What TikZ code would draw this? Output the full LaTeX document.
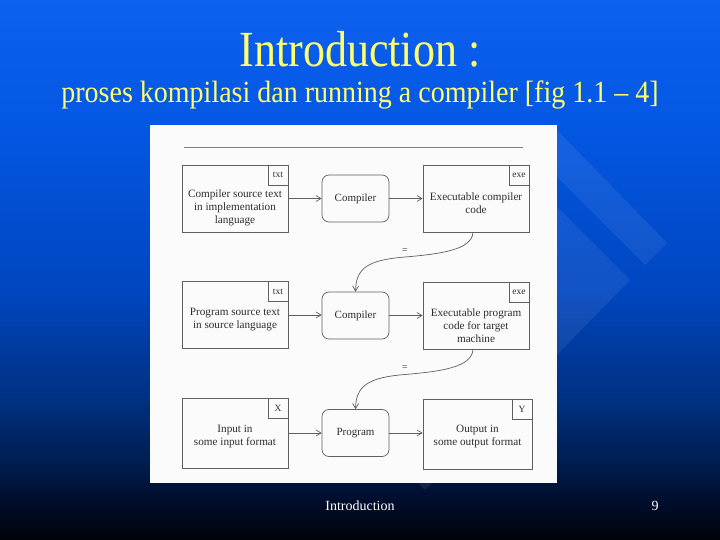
\documentclass[tikz,border=0pt]{standalone}
\usepackage{graphicx}
\usepackage{fontspec}
\setmainfont{Liberation Serif}
\usetikzlibrary{arrows.meta}
\definecolor{c0}{RGB}{0,2,10}
\definecolor{c1}{RGB}{0,14,44}
\definecolor{c2}{RGB}{0,30,82}
\definecolor{c3}{RGB}{0,48,128}
\definecolor{c4}{RGB}{0,70,192}
\definecolor{c5}{RGB}{4,88,228}
\definecolor{c6}{RGB}{14,96,238}
\definecolor{titleyellow}{RGB}{255,255,110}
\definecolor{figline}{RGB}{95,95,95}
\definecolor{figtext}{RGB}{45,45,45}
\definecolor{panel}{RGB}{251,251,251}
\pgfdeclareverticalshading{bgshade}{100bp}{color(0bp)=(c0); color(25bp)=(c0); color(28.7bp)=(c1); color(32.4bp)=(c2); color(37.9bp)=(c3); color(48bp)=(c4); color(63.9bp)=(c5); color(75bp)=(c6); color(100bp)=(c6)}
\begin{document}
\begin{tikzpicture}[x=1pt,y=-1pt,
  box/.style={draw=figline, line width=0.7pt, minimum width=106pt, minimum height=67pt, inner sep=0pt},
  proc/.style={draw=figline, line width=0.7pt, rounded corners=7pt, minimum width=67pt, minimum height=47pt, inner sep=0pt, font=\fontsize{11}{13}\selectfont, text=figtext},
  tag/.style={draw=figline, line width=0.7pt, minimum size=20pt, inner sep=0pt, anchor=north east, font=\fontsize{9.5}{10}\selectfont, text=figtext},
  boxtext/.style={align=center, font=\fontsize{11.2}{13}\selectfont, text=figtext, inner sep=0pt},
  eqsign/.style={font=\fontsize{10}{10}\selectfont, text=figtext, inner sep=0pt},
  flow/.style={draw=figline, line width=0.7pt, -{Straight Barb[length=5pt,width=6pt]}},
  band/.style={fill=white, fill opacity=0.07, draw=none},
  ttl/.style={anchor=base, text=titleyellow, inner sep=0pt},
  foot/.style={anchor=base, text=white, inner sep=0pt, font=\fontsize{14}{16}\selectfont}]
\useasboundingbox (0,0) rectangle (720,540);
% background
\shade[shading=bgshade] (0,0) rectangle (720,540);
\fill[band] (555,128) -- (667,243) -- (645,265) -- (555,175) -- cycle;
\fill[band] (555,205) -- (630,280) -- (425,490) -- (380,445) -- (380,205) -- cycle;
% titles
\node[ttl] (title) at (360,67) {\fontsize{44}{44}\selectfont\scalebox{1}[1.15]{Introduction :}};
\node[ttl] (subtitle) at (360,103) {\fontsize{28}{28}\selectfont\scalebox{1}[1.1]{proses kompilasi dan running a compiler [fig 1.1 – 4]}};
% panel
\fill[panel] (150,125) rectangle (557,483);
\coordinate (ruleL) at (184,147);
\coordinate (ruleR) at (523,147);
\draw[figline!80, line width=0.8pt] (ruleL) -- (ruleR);
% row 1
\node[box] (src1) at (235,198.5) {};
\node[tag] (tag1) at (src1.north east) {txt};
\node[boxtext] (txt1) at (235,208) {Compiler source text\\in implementation\\language};
\node[proc] (comp1) at (355.5,198.5) {Compiler};
\node[box] (exe1) at (476,198.5) {};
\node[tag] (tag2) at (exe1.north east) {exe};
\node[boxtext] (txt2) at (476,203) {Executable compiler\\code};
\draw[flow] (src1.east) -- (comp1.west);
\draw[flow] (comp1.east) -- (exe1.west);
% row 2
\node[box] (src2) at (235,315) {};
\node[tag] (tag3) at (src2.north east) {txt};
\node[boxtext] (txt3) at (235,319.5) {Program source text\\in source language};
\node[proc] (comp2) at (355.5,315.5) {Compiler};
\node[box] (exe2) at (476,315.5) {};
\node[tag] (tag4) at (exe2.north east) {exe};
\node[boxtext] (txt4) at (476,326) {Executable program\\code for target\\machine};
\draw[flow] (src2.east) -- (src2.east -| comp2.west);
\draw[flow] (comp2.east) -- (comp2.east -| exe2.west);
% row 3
\node[box, minimum height=70pt] (src3) at (235,433.5) {};
\node[tag] (tag5) at (src3.north east) {X};
\node[boxtext] (txt5) at (235,436.5) {Input in\\some input format};
\node[proc] (prog) at (355.5,433) {Program};
\node[box, minimum height=70pt, minimum width=109pt] (out3) at (477.5,434.5) {};
\node[tag] (tag6) at (out3.north east) {Y};
\node[boxtext] (txt6) at (477.5,436.5) {Output in\\some output format};
\draw[flow] (prog.west -| src3.east) -- (prog.west);
\draw[flow] (prog.east) -- (prog.east -| out3.west);
% equality curves
\coordinate (k1) at (405,257);
\node[eqsign] (eq1) at (405,251) {=};
\draw[flow] ([xshift=-3pt]exe1.south) .. controls (472,250) and (440,254) .. (k1) .. controls (368,260) and (356,268) .. (comp2.north);
\coordinate (k2) at (405,374.5);
\node[eqsign] (eq2) at (405,368.5) {=};
\draw[flow] ([xshift=-3pt]exe2.south) .. controls (472,367.5) and (440,371.5) .. (k2) .. controls (368,377.5) and (356,386) .. (prog.north);
% footer
\node[foot] (footer) at (360,510) {Introduction};
\node[foot] (pagenum) at (655,510) {9};
\end{tikzpicture}
\end{document}
